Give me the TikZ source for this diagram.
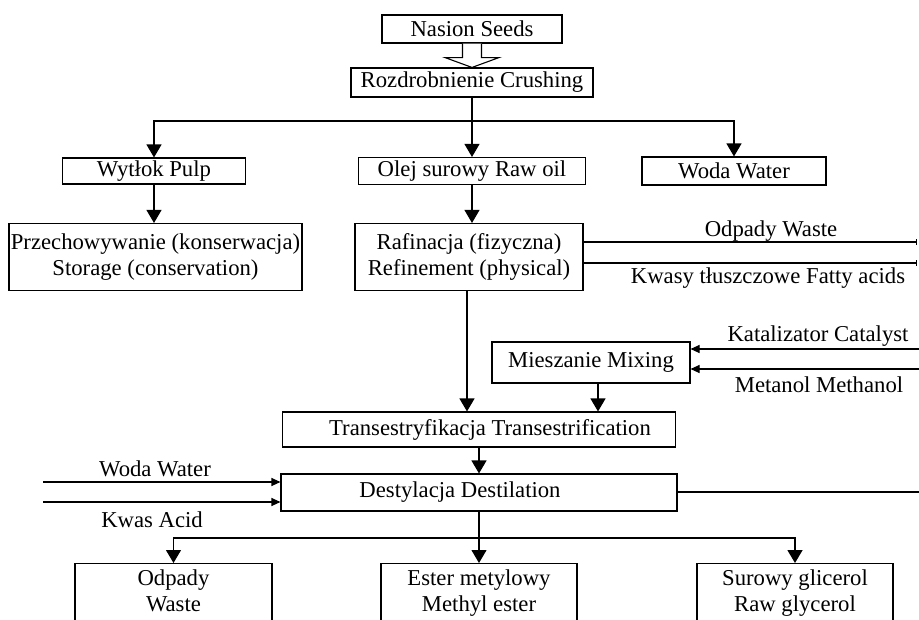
\documentclass[tikz,border=0pt]{standalone}
\usepackage{fontspec}
\setmainfont{Liberation Serif}
\usetikzlibrary{arrows.meta,calc}
\begin{document}
\begin{tikzpicture}[x=1pt,y=-1pt,
  font=\fontsize{22.7}{26}\selectfont,
  box/.style={draw, line width=1.1pt, inner sep=0pt, align=center},
  arr/.style={line width=1.1pt, -{Triangle[width=15pt,length=13pt]}},
  sidearr/.style={line width=1.1pt, -{Triangle[width=8pt,length=9pt]}},
  flow/.style={line width=1.1pt},
  endbar/.style={line width=1.1pt, -{Bar[width=6pt]}},
  lbl/.style={inner sep=0pt, anchor=base},
  txt/.style={inner sep=0pt, align=center, anchor=north}]
\clip (0,0) rectangle (919,619);

% process boxes
\node[box, minimum width=180pt, minimum height=28pt] (seeds) at (472,29) {Nasion Seeds};
\node[box, minimum width=242pt, minimum height=29pt] (crush) at (472,82.5) {Rozdrobnienie Crushing};
\node[box, minimum width=183pt, minimum height=26pt] (pulp) at (154,171) {Wytłok Pulp};
\node[box, minimum width=227pt, minimum height=27pt] (oil) at (472,171) {Olej surowy Raw oil};
\node[box, minimum width=184pt, minimum height=28pt] (water) at (734,171) {Woda Water};
\node[box, minimum width=293pt, minimum height=67pt] (storage) at (155.5,257) {Przechowywanie (konserwacja)\\Storage (conservation)};
\node[box, minimum width=228pt, minimum height=67pt] (refine) at (469,257) {Rafinacja (fizyczna)\\Refinement (physical)};
\node[box, minimum width=198pt, minimum height=41pt] (mix) at (591,362.5) {Mieszanie Mixing};
\node[box, minimum width=393pt, minimum height=35pt] (trans) at (479,429.5) {\hspace*{22pt}Transestryfikacja Transestrification};
\node[box, minimum width=396pt, minimum height=37pt] (dest) at (479,492.5) {Destylacja Destilation\hspace*{38pt}};

% product boxes, running off the lower edge
\node[box, anchor=north, minimum width=197pt, minimum height=80pt] (wasteBox) at (173.5,563) {};
\node[box, anchor=north, minimum width=196pt, minimum height=80pt] (esterBox) at (479,563) {};
\node[box, anchor=north, minimum width=196pt, minimum height=80pt] (glycBox) at (795,563) {};
\node[txt] (wasteTxt) at (173.5,569.5) {Odpady\\Waste};
\node[txt] (esterTxt) at (479,569.5) {Ester metylowy\\Methyl ester};
\node[txt] (glycTxt) at (795,569.5) {Surowy glicerol\\Raw glycerol};

% hollow arrow from seeds to crushing
\draw[line width=1.1pt, fill=white]
  ($(seeds.south)+(-9.5,0)$) -- ($(seeds.south)+(-9.5,14)$) -- ($(seeds.south)+(-27,14)$)
  -- (crush.north) -- ($(seeds.south)+(27,14)$) -- ($(seeds.south)+(9.5,14)$)
  -- ($(seeds.south)+(9.5,0)$);

% crushing splits into three streams
\coordinate (split1) at (472,121);
\draw[flow] (crush.south) -- (split1);
\draw[arr] (split1) -| (pulp.north);
\draw[arr] (split1) -| (water.north);
\draw[arr] (split1) -- (oil.north);
\draw[arr] (pulp.south) -- (pulp.south |- storage.north);
\draw[arr] (oil.south) -- (oil.south |- refine.north);

% refining by-products
\coordinate (wasteEnd) at (917,242);
\coordinate (fattyEnd) at (917,263);
\draw[endbar] (refine.east |- wasteEnd) -- (wasteEnd);
\draw[endbar] (refine.east |- fattyEnd) -- (fattyEnd);
\node[lbl] (wasteLbl) at (771,236) {Odpady Waste};
\node[lbl] (fattyLbl) at (768,283) {Kwasy tłuszczowe Fatty acids};

% refined oil to transesterification
\coordinate (rf) at ($(refine.south)+(-2,0)$);
\draw[arr] (rf) -- (rf |- trans.north);

% catalyst and methanol into mixing
\coordinate (catIn) at (919,349);
\coordinate (methIn) at (919,369);
\draw[sidearr] (catIn) -- (mix.east |- catIn);
\draw[sidearr] (methIn) -- (mix.east |- methIn);
\node[lbl] (catLbl) at (818,341) {Katalizator Catalyst};
\node[lbl] (methLbl) at (819,392) {Metanol Methanol};
\coordinate (mx) at ($(mix.south)+(7,0)$);
\draw[arr] (mx) -- (mx |- trans.north);

% transesterification to distillation
\draw[arr] (trans.south) -- (trans.south |- dest.north);

% water and acid into distillation
\coordinate (waterIn) at (43,482);
\coordinate (acidIn) at (43,502);
\draw[sidearr] (waterIn) -- (dest.west |- waterIn);
\draw[sidearr] (acidIn) -- (dest.west |- acidIn);
\node[lbl] (waterLbl) at (155,476) {Woda Water};
\node[lbl] (acidLbl) at (152,527) {Kwas Acid};
\coordinate (destOut) at (919,492);
\draw[flow] (dest.east |- destOut) -- (destOut);

% distillation products
\coordinate (split2) at (479,538);
\draw[arr] (split2) -| (wasteBox.north);
\draw[arr, line width=1.5pt] (split2) -| (glycBox.north);
\draw[arr] (dest.south) -- (esterBox.north);
\end{tikzpicture}
\end{document}
